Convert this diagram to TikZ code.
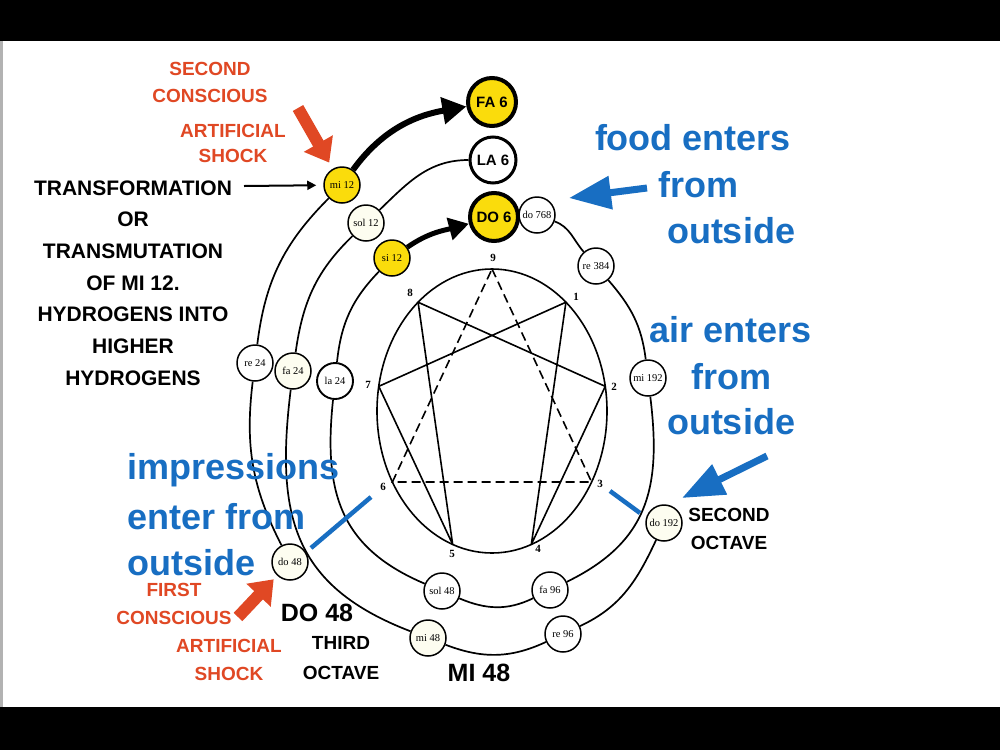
\documentclass[tikz,border=0pt]{standalone}
\usepackage{fontspec}
\setmainfont{Liberation Sans}
\newfontfamily\notefont{Liberation Serif}
\usetikzlibrary{arrows.meta,calc}
\definecolor{shockred}{RGB}{224,72,36}
\definecolor{inblue}{RGB}{24,110,194}
\definecolor{noteyellow}{RGB}{250,220,12}
\definecolor{ivory}{RGB}{253,253,240}
\begin{document}
\begin{tikzpicture}[x=1pt,y=-1pt,
  note/.style={circle,draw=black,line width=1.5pt,minimum size=36pt,inner sep=0pt,fill=white,
    font=\notefont\fontsize{10.5}{10.5}\selectfont},
  yelnote/.style={note,fill=noteyellow},
  ivnote/.style={note,fill=ivory},
  bignote/.style={circle,draw=black,line width=4pt,minimum size=48pt,inner sep=0pt,
    font=\bfseries\fontsize{15}{15}\selectfont},
  octave/.style={line width=1.7pt},
  enline/.style={line width=1.6pt},
  ennum/.style={font=\notefont\bfseries\fontsize{11}{11}\selectfont},
  bigarrow/.style={line width=6pt,-{Triangle[length=24pt,width=26pt]}},
  redarrow/.style={draw=shockred,line width=12pt,-{Triangle[length=22pt,width=32pt]}},
  bluearrow/.style={draw=inblue,line width=7pt,-{Triangle[length=42pt,width=32pt]}},
  bluebar/.style={draw=inblue,line width=4.5pt},
  blacktext/.style={font=\bfseries\fontsize{21}{31.7}\selectfont,align=center,inner sep=0pt},
  redtext/.style={text=shockred,font=\bfseries\fontsize{19}{27}\selectfont,align=center,inner sep=0pt},
  bluetext/.style={text=inblue,font=\bfseries\fontsize{36}{36}\selectfont,inner sep=0pt},
  octtext/.style={font=\bfseries\fontsize{19}{28}\selectfont,align=center,inner sep=0pt},
  bigtext/.style={font=\bfseries\fontsize{25}{25}\selectfont,inner sep=0pt},
]
\useasboundingbox (0,0) rectangle (1000,750);
\fill[white] (0,0) rectangle (1000,750);
\fill[black] (0,0) rectangle (1000,41);
\fill[black] (0,707) rectangle (1000,750);
\fill[gray!60] (0,41) rectangle (2.5,707);

% enneagram
\coordinate (EC) at (492,411);
\draw[enline] (EC) ellipse[x radius=115pt, y radius=142pt];
\foreach \n/\a in {9/-90,1/-50,2/-10,3/30,4/70,5/110,6/150,7/190,8/230}{
  \coordinate (e\n) at ($(EC)+(\a:115 and 142)$);
}
\draw[enline,line join=round] (e1)--(e4)--(e2)--(e8)--(e5)--(e7)--cycle;
\draw[enline,dash pattern=on 9pt off 5pt] (e9)--(e3)--(e6)--cycle;
\node[ennum] (n9) at (493,258) {9};
\node[ennum] (n1) at (576,297) {1};
\node[ennum] (n2) at (614,387) {2};
\node[ennum] (n3) at (600,484) {3};
\node[ennum] (n4) at (538,549) {4};
\node[ennum] (n5) at (452,554) {5};
\node[ennum] (n6) at (383,487) {6};
\node[ennum] (n7) at (368,385) {7};
\node[ennum] (n8) at (410,293) {8};

% top nodes
\node[bignote,fill=noteyellow] (FA) at (492,102) {FA 6};
\node[bignote,line width=3pt,minimum size=46pt,fill=white] (LA) at (493,160) {LA 6};
\node[bignote,fill=noteyellow] (DOsix) at (494,217) {DO 6};

% food octave
\node[note] (do768) at (537,215) {do 768};
\node[note] (re384) at (596,266) {re 384};
\node[note] (mi192) at (648,378) {mi 192};
\node[note] (fa96) at (550,590) {fa 96};
\node[note] (sol48) at (442,591) {sol 48};
\node[note,line width=1.9pt] (la24) at (335,381) {la 24};
\node[yelnote] (si12) at (392,258) {si 12};
% air octave
\node[ivnote] (do192) at (664,523) {do 192};
\node[note] (re96) at (563,634) {re 96};
\node[ivnote] (mi48) at (428,638) {mi 48};
\node[ivnote] (fa24) at (293,371) {fa 24};
\node[ivnote] (sol12) at (366,223) {sol 12};
% impressions octave
\node[ivnote] (do48) at (290,562) {do 48};
\node[note] (re24) at (255,363) {re 24};
\node[yelnote] (mi12) at (342,185) {mi 12};

% octave arcs
\draw[octave] (do768) to[out=-20,in=131] (re384);
\draw[octave] (re384) to[out=-49,in=97] (mi192);
\draw[octave] (mi192) to[out=-83,in=26,looseness=1.15] (fa96);
\draw[octave] (fa96) to[out=-154,in=-23] (sol48);
\draw[octave] (sol48) to[out=157,in=-96,looseness=1.15] (la24);
\draw[octave] (la24) to[out=84,in=-134] (si12);

\draw[octave] (do192) to[out=-115,in=25] (re96);
\draw[octave] (re96) to[out=-155,in=-21] (mi48);
\draw[octave] (mi48) to[out=159,in=-97,looseness=1.2] (fa24);
\draw[octave] (fa24) to[out=82,in=-136] (sol12);
\draw[octave] (sol12) to[out=44,in=180] (LA);

\draw[octave] (do48) to[out=117,in=-97] (re24);
\draw[octave] (re24) to[out=83,in=-135] (mi12);

% thick transformation arrows
\draw[bigarrow] (mi12) to[out=54,in=190] (FA);
\draw[line width=5pt,-{Triangle[length=20pt,width=22pt]}] (si12) to[out=35,in=195] (DOsix);

% shock bars
\coordinate (b3a) at (610,491); \coordinate (b3b) at (640,513);
\coordinate (b6a) at (371,497); \coordinate (b6b) at (311,548);
\draw[bluebar] (b3a) -- (b3b);
\draw[bluebar] (b6a) -- (b6b);

% red shock arrows
\coordinate (rs2) at (298,108);
\draw[redarrow,shorten >=7pt] (rs2) -- (mi12);
\coordinate (rs1) at (238,617);
\draw[redarrow,shorten >=5pt] (rs1) -- (do48);

% blue arrows
\coordinate (fbtail) at (647,188); \coordinate (fbtip) at (569,198);
\draw[bluearrow] (fbtail) -- (fbtip);
\coordinate (abtail) at (767,456); \coordinate (abtip) at (682,498);
\draw[bluearrow] (abtail) -- (abtip);

% transformation text and arrow
\node[blacktext] (transf) at (133,283) {TRANSFORMATION\\OR\\TRANSMUTATION\\OF MI 12.\\HYDROGENS INTO\\HIGHER\\HYDROGENS};
\coordinate (trtail) at (244,186);
\draw[line width=2pt,-{Triangle[length=9pt,width=9pt]},shorten >=7pt] (trtail) -- (mi12);

% red texts
\node[redtext] (s2a) at (210,82) {SECOND\\CONSCIOUS};
\node[redtext,font=\bfseries\fontsize{19}{25}\selectfont] (s2b) at (233,143) {ARTIFICIAL\\SHOCK};
\node[redtext,font=\bfseries\fontsize{19}{28}\selectfont] (s1a) at (174,604) {FIRST\\CONSCIOUS};
\node[redtext,font=\bfseries\fontsize{19}{28}\selectfont] (s1b) at (229,660) {ARTIFICIAL\\SHOCK};

% blue texts
\node[bluetext,anchor=base] (fe1) at (693,150) {food enters};
\node[bluetext,anchor=base] (fe2) at (698,197) {from};
\node[bluetext,anchor=base] (fe3) at (731,243) {outside};
\node[bluetext,anchor=base] (ae1) at (731,342) {air enters};
\node[bluetext,anchor=base] (ae2) at (731,389) {from};
\node[bluetext,anchor=base] (ae3) at (731,434) {outside};
\node[bluetext,anchor=base west] (ie1) at (127,479) {impressions};
\node[bluetext,anchor=base west] (ie2) at (127,529) {enter from};
\node[bluetext,anchor=base west] (ie3) at (127,575) {outside};

% octave labels
\node[bigtext] (do48lab) at (317,613) {DO 48};
\node[octtext,font=\bfseries\fontsize{19}{30}\selectfont] (third) at (341,658) {THIRD\\OCTAVE};
\node[bigtext] (mi48lab) at (479,673) {MI 48};
\node[octtext] (second) at (729,529) {SECOND\\OCTAVE};
\end{tikzpicture}
\end{document}
